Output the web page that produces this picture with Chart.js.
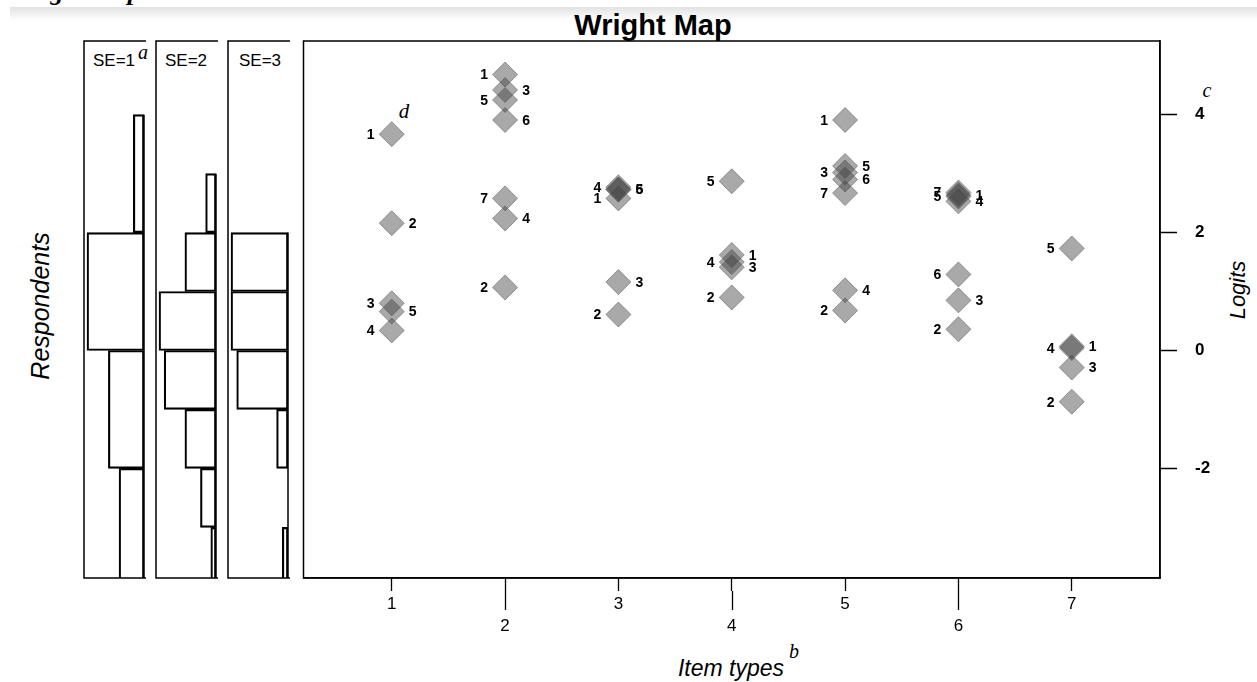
<!DOCTYPE html>
<html>
<head>
<meta charset="utf-8">
<script src="https://cdn.jsdelivr.net/npm/chart.js@4.4.1/dist/chart.umd.min.js"></script>
<style>
  body { margin: 0; width: 1257px; height: 682px; background: #fff; position: relative; overflow: hidden;
         font-family: Arial, "Liberation Sans", sans-serif; }
  canvas { position: absolute; }
  .t { position: absolute; white-space: nowrap; transform: translate(-50%, -50%); line-height: 1; }
  .note { font-family: "Liberation Serif", "Times New Roman", serif; font-style: italic; }
  .band { position: absolute; left: 10px; top: 7px; width: 1247px; height: 13px;
          background: linear-gradient(to bottom, #e2e2e2, #f3f3f3 60%, #fff); }
  .heading { position: absolute; left: 12px; top: -21px; font: italic bold 26px/26px "Liberation Serif", serif; }
</style>
</head>
<body>
<div class="heading">Wright Map</div>
<div class="band"></div>

<div class="t" style="left:653px; top:25px; font-weight:bold; font-size:29px;">Wright Map</div>
<div class="t" style="left:114px; top:60px; font-size:17px;">SE=1</div>
<div class="t" style="left:186px; top:60px; font-size:17px;">SE=2</div>
<div class="t" style="left:260px; top:60px; font-size:17px;">SE=3</div>
<div class="t" style="left:40px; top:306px; font-size:25px; font-style:italic; transform: translate(-50%, -50%) rotate(-90deg);">Respondents</div>
<div class="t" style="left:731px; top:668px; font-size:23px; font-style:italic;">Item types</div>
<div class="t" style="left:1238px; top:290px; font-size:22px; font-style:italic; transform: translate(-50%, -50%) rotate(-90deg);">Logits</div>
<div class="t note" style="left:143px; top:52px; font-size:20px;">a</div>
<div class="t note" style="left:794px; top:651px; font-size:20px;">b</div>
<div class="t note" style="left:1207px; top:90px; font-size:20px;">c</div>
<div class="t note" style="left:404px; top:111px; font-size:21px;">d</div>

<canvas id="se1" width="64" height="682" style="left:82px; top:0;"></canvas>
<canvas id="se2" width="64" height="682" style="left:154px; top:0;"></canvas>
<canvas id="se3" width="64" height="682" style="left:226px; top:0;"></canvas>
<canvas id="main" width="967" height="682" style="left:290px; top:0;"></canvas>

<script>
// item types on the x axis
const itemTypes = [1, 2, 3, 4, 5, 6, 7];

// threshold locations (logits), threshold k at index k-1
const item1 = [3.67, 2.16, 0.80, 0.34, 0.66];
const item2 = [4.68, 1.07, 4.42, 2.24, 4.25, 3.91, 2.58];
const item3 = [2.58, 0.61, 1.16, 2.77, 2.73, 2.73];
const item4 = [1.62, 0.90, 1.41, 1.50, 2.87];
const item5 = [3.91, 0.68, 3.02, 1.02, 3.13, 2.90, 2.67];
const item6 = [2.64, 0.36, 0.85, 2.53, 2.61, 1.29, 2.68];
const item7 = [0.07, -0.87, -0.29, 0.04, 1.73];

const logitTicks = [-2, 0, 2, 4];

// respondent histograms: bin centres (logits) and counts
const se1Bins = [-3, -1, 1, 3];
const se1Counts = [7, 10, 16, 3];
const se2Bins = [-3.5, -2.5, -1.5, -0.5, 0.5, 1.5, 2.5];
const se2Counts = [1, 3, 6, 10, 11, 6, 2];
const se3Bins = [-3.5, -2.5, -1.5, -0.5, 0.5, 1.5];
const se3Counts = [1, 0, 2, 9, 10, 10];

const LOGIT_MIN = -3.86, LOGIT_MAX = 5.25;

// left, top and bottom lines of each histogram panel, plus the base line of the bars
const panelFrame = {
  id: 'panelFrame',
  afterDatasetsDraw(chart) {
    const a = chart.chartArea, ctx = chart.ctx;
    const xs = chart.scales.x, ys = chart.scales.y;
    const bins = chart.data.datasets[0].data.map(p => p.y);
    const half = (bins[1] - bins[0]) / 2;
    const base = xs.getPixelForValue(0);
    ctx.save();
    ctx.strokeStyle = '#000';
    ctx.lineWidth = 1.5;
    ctx.beginPath();
    ctx.moveTo(a.right + 2, a.top);
    ctx.lineTo(a.left, a.top);
    ctx.lineTo(a.left, a.bottom);
    ctx.lineTo(a.right + 2, a.bottom);
    ctx.moveTo(base, ys.getPixelForValue(Math.max(...bins) + half));
    ctx.lineTo(base, a.bottom);
    ctx.stroke();
    ctx.restore();
  }
};

function histogram(id, bins, counts) {
  return new Chart(document.getElementById(id), {
    type: 'bar',
    data: {
      datasets: [{
        data: bins.map((b, i) => ({ x: counts[i], y: b })),
        backgroundColor: 'rgba(255,255,255,0)',
        borderColor: '#000',
        borderWidth: 1.5,
        borderSkipped: false,
        barPercentage: 1,
        categoryPercentage: 1
      }]
    },
    options: {
      indexAxis: 'y',
      responsive: false,
      animation: false,
      events: [],
      layout: { padding: { left: 2, right: 2, top: 41, bottom: 104 } },
      plugins: { legend: { display: false }, tooltip: { enabled: false } },
      scales: {
        x: { type: 'linear', reverse: true, min: 0, max: Math.max(...counts) / 0.95, display: false },
        y: {
          type: 'linear', min: LOGIT_MIN, max: LOGIT_MAX, display: false,
          offset: false, grid: { offset: false },
          afterBuildTicks: s => { s.ticks = bins.map(v => ({ value: v })); }
        }
      }
    },
    plugins: [panelFrame]
  });
}

histogram('se1', se1Bins, se1Counts);
histogram('se2', se2Bins, se2Counts);
histogram('se3', se3Bins, se3Counts);

// full box round the plot, plus the longer ticks of the even items
const plotBox = {
  id: 'plotBox',
  afterDraw(chart) {
    const a = chart.chartArea, ctx = chart.ctx, xs = chart.scales.x;
    ctx.save();
    ctx.strokeStyle = '#000';
    ctx.lineWidth = 1.5;
    ctx.strokeRect(a.left, a.top, a.right - a.left, a.bottom - a.top);
    ctx.lineWidth = 1.3;
    ctx.beginPath();
    itemTypes.filter(v => v % 2 === 0).forEach(v => {
      const px = Math.round(xs.getPixelForValue(v)) + 0.5;
      ctx.moveTo(px, a.bottom + 13);
      ctx.lineTo(px, a.bottom + 32);
    });
    ctx.stroke();
    ctx.restore();
  }
};

// threshold numbers, alternating left / right going down each item
const thresholdLabels = {
  id: 'thresholdLabels',
  afterDatasetsDraw(chart) {
    const ctx = chart.ctx;
    ctx.save();
    ctx.font = 'bold 14px Arial, "Liberation Sans", sans-serif';
    ctx.fillStyle = '#000';
    ctx.textAlign = 'center';
    ctx.textBaseline = 'middle';
    chart.data.datasets.forEach((ds, di) => {
      const meta = chart.getDatasetMeta(di);
      const order = ds.data.map((p, k) => k).sort((a, b) => ds.data[b].y - ds.data[a].y);
      let side = -1, prev = null;
      order.forEach((k, n) => {
        const v = ds.data[k].y;
        if (n > 0 && Math.abs(prev - v) > 0.015) side = -side;
        prev = v;
        const el = meta.data[k];
        ctx.fillText(String(k + 1), el.x + side * 21, el.y + 1);
      });
    });
    ctx.restore();
  }
};

const items = [item1, item2, item3, item4, item5, item6, item7];

new Chart(document.getElementById('main'), {
  type: 'scatter',
  data: {
    datasets: items.map((vals, i) => ({
      data: vals.map(v => ({ x: itemTypes[i], y: v })),
      pointStyle: 'rectRot',
      pointRadius: 12.5,
      backgroundColor: 'rgba(65,65,65,0.45)',
      borderColor: 'rgba(80,80,80,0.5)',
      borderWidth: 1
    }))
  },
  options: {
    responsive: false,
    animation: false,
    events: [],
    layout: { padding: { left: 11, top: 41, right: 0, bottom: 0 } },
    plugins: { legend: { display: false }, tooltip: { enabled: false } },
    scales: {
      x: {
        type: 'linear',
        min: 0.2215,
        max: 7.7786,
        position: 'bottom',
        afterBuildTicks: s => { s.ticks = itemTypes.map(v => ({ value: v })); },
        afterFit: s => { s.height = 104; },
        ticks: {
          callback: v => (v % 2 === 0 ? ['', String(v)] : String(v)),
          color: '#000',
          font: { family: '"Liberation Sans Narrow", "Arial Narrow", Arial, sans-serif', size: 17, lineHeight: 1.3 },
          padding: 2,
          maxRotation: 0,
          autoSkip: false
        },
        grid: { drawOnChartArea: false, drawTicks: true, tickLength: 13, tickColor: '#000', tickWidth: 1.3 },
        border: { display: true, color: '#000', width: 1.5 }
      },
      y: {
        type: 'linear',
        min: LOGIT_MIN,
        max: LOGIT_MAX,
        position: 'right',
        afterBuildTicks: s => { s.ticks = logitTicks.map(v => ({ value: v })); },
        afterFit: s => { s.width = 97; },
        ticks: {
          color: '#000',
          font: { family: 'Arial, "Liberation Sans", sans-serif', size: 17, weight: 'bold' },
          padding: 18
        },
        grid: { drawOnChartArea: false, drawTicks: true, tickLength: 17, tickColor: '#000', tickWidth: 1.5 },
        border: { display: true, color: '#000', width: 1.5 }
      }
    }
  },
  plugins: [thresholdLabels, plotBox]
});
</script>
</body>
</html>
